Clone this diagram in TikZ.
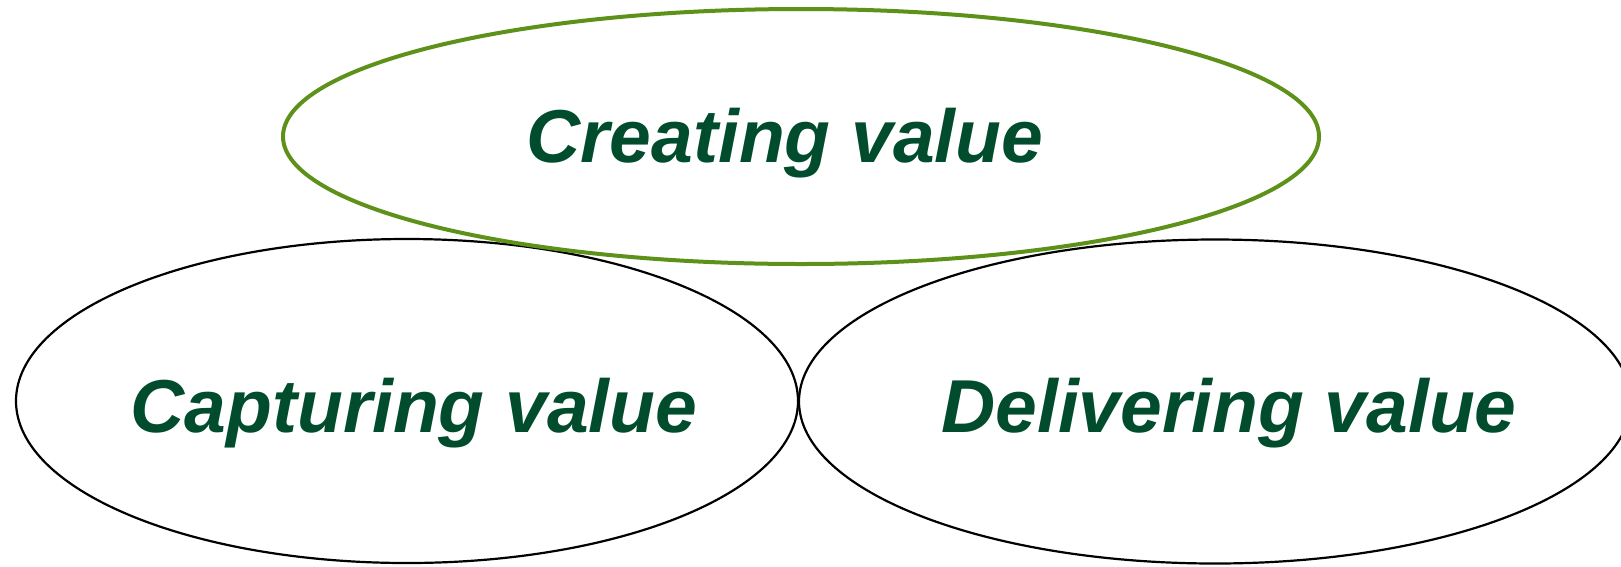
\documentclass[tikz,border=0pt]{standalone}
\usepackage{fontspec}
\setmainfont{Liberation Sans}
\usetikzlibrary{shapes.geometric}
\definecolor{ringgreen}{RGB}{94,145,25}
\definecolor{labelgreen}{RGB}{0,76,45}
\begin{document}
\begin{tikzpicture}[x=1pt,y=-1pt,
  ring/.style={ellipse,draw=black,line width=2.2pt,inner sep=0pt,outer sep=0pt},
  topring/.style={ring,draw=ringgreen,line width=4pt},
  caption/.style={anchor=base,text=labelgreen,inner sep=0pt,
    font=\fontsize{75}{82}\selectfont\bfseries\itshape}]
  \useasboundingbox (0,0) rectangle (1621,566);
  % the two lower rings, then the upper ring on top of them
  \node[ring,minimum width=782pt,minimum height=324pt] (capture) at (407,401) {};
  \node[ring,minimum width=832pt,minimum height=324pt] (deliver) at (1215,401.5) {};
  \node[topring,minimum width=1036pt,minimum height=255pt] (create) at (801,136.5) {};
  % labels
  \node[caption] (tcreate) at (785,162) {Creating value};
  \node[caption] (tcapture) at (414,432) {Capturing value};
  \node[caption] (tdeliver) at (1229,432) {Delivering value};
\end{tikzpicture}
\end{document}
